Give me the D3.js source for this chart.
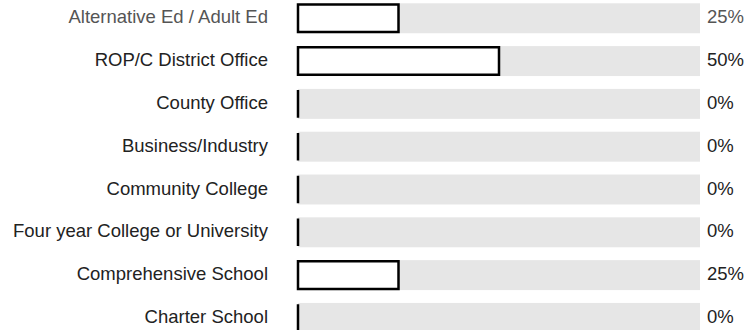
<!DOCTYPE html>
<html>
<head>
<meta charset="utf-8">
<script src="https://cdn.jsdelivr.net/npm/d3@7"></script>
<style>
  body { margin: 0; background: #fff; }
  svg text { font-family: "Liberation Sans", Arial, sans-serif; font-size: 18.5px; }
</style>
</head>
<body>
<div id="chart"></div>
<script>
// data
var categories = [
  'Alternative Ed / Adult Ed',
  'ROP/C District Office',
  'County Office',
  'Business/Industry',
  'Community College',
  'Four year College or University',
  'Comprehensive School',
  'Charter School'
];
var percents = [25, 50, 0, 0, 0, 0, 25, 0];
var valueLabels = ['25%', '50%', '0%', '0%', '0%', '0%', '25%', '0%'];

var W = 747, H = 330;
var barLeft = 298, barRight = 700;

var svg = d3.select('#chart').append('svg')
  .attr('width', W)
  .attr('height', H);

var x = d3.scaleLinear().domain([0, 100]).range([barLeft, barRight]);
var y = d3.scaleBand()
  .domain(categories)
  .range([3.3, 3.3 + 7 * 42.8 + 30])
  .paddingInner(0.3)
  .paddingOuter(0);

var rows = svg.selectAll('g.row')
  .data(categories)
  .enter().append('g')
  .attr('class', 'row')
  .attr('transform', function(d){ return 'translate(0,' + y(d) + ')'; });

// 背景條
rows.append('rect')
  .attr('x', x(0))
  .attr('y', 0)
  .attr('width', x(100) - x(0))
  .attr('height', y.bandwidth())
  .attr('fill', '#e6e6e6');

// 值條 (白底黑框)，0 時只剩一條黑線
rows.append('path')
  .attr('d', function(d, i){
    var x0 = x(0), x1 = x(percents[i]), y0 = 1.2, y1 = y.bandwidth() - 1.2;
    return 'M' + x0 + ',' + y0 + 'H' + x1 + 'V' + y1 + 'H' + x0 + 'Z';
  })
  .attr('fill', '#fff')
  .attr('stroke', '#000')
  .attr('stroke-width', 2.5);

// 類別文字
rows.append('text')
  .attr('x', 268)
  .attr('y', y.bandwidth() / 2)
  .attr('dy', '0.28em')
  .attr('text-anchor', 'end')
  .attr('fill', function(d, i){ return i === 0 ? '#555' : '#222'; })
  .text(function(d){ return d; });

// 百分比文字
rows.append('text')
  .attr('x', x(100) + 7)
  .attr('y', y.bandwidth() / 2)
  .attr('dy', '0.28em')
  .attr('fill', function(d, i){ return i === 0 ? '#555' : '#222'; })
  .text(function(d, i){ return valueLabels[i]; });
</script>
</body>
</html>
